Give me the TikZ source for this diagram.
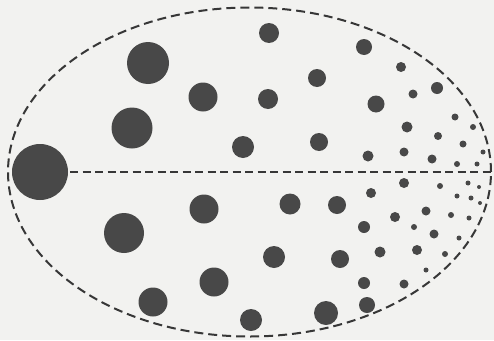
\documentclass[tikz,border=0pt]{standalone}
\definecolor{bgc}{RGB}{242,242,240}
\definecolor{dotgray}{RGB}{72,72,72}
\definecolor{linegray}{RGB}{55,55,55}
\begin{document}
\begin{tikzpicture}[x=1pt,y=-1pt,
  dotc/.style={fill=dotgray},
  outline/.style={draw=linegray,line width=2pt,dash pattern=on 9pt off 5pt},
  axisline/.style={draw=linegray,line width=1.6pt,dash pattern=on 8pt off 4.5pt}]
\fill[bgc] (0,0) rectangle (494,340);
\useasboundingbox (0,0) rectangle (494,340);
% outline
\path[outline] (249.5,172) ellipse [x radius=241.5pt, y radius=164.5pt];
% big dot and axis
\node[circle,dotc,inner sep=0pt,minimum size=56pt] (big) at (40,172) {};
\coordinate (tip) at (491,172);
\path[axisline] (big.east) ++(2,0) -- (tip);
% upper dots
\foreach \x/\y/\r in {148/63/21,132/128/20.5,203/97/14.5,243/147/11,269/33/10,268/99/10,
  317/78/9,319/142/9,364/47/8,376/104/8.5,368/156/5.5,401/67/5,407/127/5.5,404/152/4.5,
  413/94/4.5,437/88/6,438/136/4,432/159/4.5,455/117/3.5,463/144/3.5,457/164/3,473/127/3,
  483/152/2.5,477/164/2.5}
  \fill[dotc] (\x,\y) circle (\r pt);
% lower dots
\foreach \x/\y/\r in {204/209/14.5,124/233/20,214/282/14.5,153/302/14.5,251/320/11,
  290/204/10.5,274/257/11,337/205/9,340/259/9,326/313/12,367/305/8,371/193/5,364/227/6,
  380/252/5.5,364/283/6,404/183/5,395/217/5,417/250/5,404/284/4.5,426/211/4.5,414/227/3,
  434/234/4.5,445/254/3,426/270/2.5,440/186/3,451/215/3,459/238/2.5,457/196/2.5,
  469/218/2.5,468/183/2.5,479/187/2,471/198/2.5,480/203/2}
  \fill[dotc] (\x,\y) circle (\r pt);
\end{tikzpicture}
\end{document}
